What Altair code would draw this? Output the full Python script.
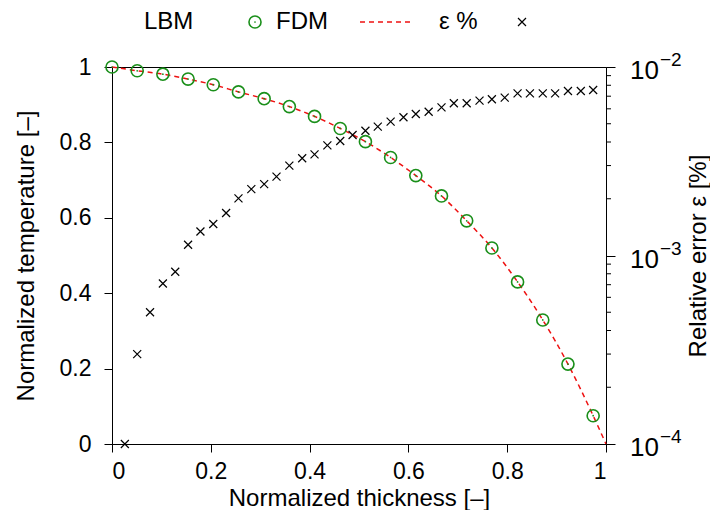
import altair as alt
import pandas as pd

# ---- data ----
lbm_x = [0.0, 0.051, 0.103, 0.154, 0.205, 0.256, 0.308, 0.359, 0.410, 0.462,
         0.513, 0.564, 0.615, 0.667, 0.718, 0.769, 0.821, 0.872, 0.923, 0.974]
lbm_t = [1.0, 0.990, 0.981, 0.968, 0.953, 0.934, 0.916, 0.895, 0.869, 0.837,
         0.802, 0.760, 0.712, 0.658, 0.592, 0.520, 0.430, 0.329, 0.212, 0.075]

fdm_x = [0.0, 0.051, 0.103, 0.154, 0.205, 0.256, 0.308, 0.359, 0.410, 0.462,
         0.513, 0.564, 0.615, 0.667, 0.718, 0.769, 0.821, 0.872, 0.923, 0.974, 1.0]
fdm_t = [1.0, 0.990, 0.981, 0.968, 0.953, 0.934, 0.916, 0.895, 0.869, 0.837,
         0.802, 0.760, 0.712, 0.658, 0.592, 0.520, 0.430, 0.329, 0.212, 0.075, 0.0]

err_x = [0.026, 0.051, 0.077, 0.103, 0.128, 0.154, 0.179, 0.205, 0.231, 0.256,
         0.282, 0.308, 0.333, 0.359, 0.385, 0.410, 0.436, 0.462, 0.487, 0.513,
         0.538, 0.564, 0.590, 0.615, 0.641, 0.667, 0.692, 0.718, 0.744, 0.769,
         0.795, 0.821, 0.846, 0.872, 0.897, 0.923, 0.949, 0.974]
err_v = [1.0e-4, 3.0e-4, 5.0e-4, 7.1e-4, 8.2e-4, 1.14e-3, 1.34e-3, 1.47e-3, 1.68e-3, 2.01e-3,
         2.25e-3, 2.39e-3, 2.62e-3, 3.0e-3, 3.28e-3, 3.44e-3, 3.84e-3, 4.05e-3, 4.36e-3, 4.59e-3,
         4.83e-3, 5.13e-3, 5.41e-3, 5.63e-3, 5.79e-3, 6.11e-3, 6.42e-3, 6.42e-3, 6.63e-3, 6.74e-3,
         6.88e-3, 7.25e-3, 7.25e-3, 7.25e-3, 7.25e-3, 7.46e-3, 7.46e-3, 7.55e-3]

x_ticks = [0, 0.2, 0.4, 0.6, 0.8, 1]
t_ticks = [0, 0.2, 0.4, 0.6, 0.8, 1]
decades = [1e-4, 1e-3, 1e-2]
decade_base = ["10", "10", "10"]
decade_exp = ["\u22124", "\u22123", "\u22122"]
minor_ticks = [2e-4, 3e-4, 4e-4, 5e-4, 6e-4, 7e-4, 8e-4, 9e-4,
               2e-3, 3e-3, 4e-3, 5e-3, 6e-3, 7e-3, 8e-3, 9e-3]

FONT = "Liberation Sans"
FS = 24
LFS = 23
W, H = 494, 377
GREEN = "#1a8f1a"
RED = "#ee1111"

x_scale = alt.Scale(domain=[0, 1], nice=False, zero=False)
t_scale = alt.Scale(domain=[0, 1], nice=False, zero=False)
e_scale = alt.Scale(type="log", domain=[1e-4, 1e-2], nice=False)

x_axis = alt.Axis(values=x_ticks, format="~g", title="Normalized thickness [\u2013]",
                  tickSize=8, labelPadding=8, titleX=W / 2, titleY=61,
                  titleBaseline="alphabetic", titleAlign="center")
t_axis = alt.Axis(values=t_ticks, format="~g", title="Normalized temperature [\u2013]",
                  orient="left", tickSize=8, labelPadding=13, titleX=-79, titleY=H / 2,
                  titleAngle=270, titleBaseline="alphabetic", titleAlign="center")
e_axis = alt.Axis(values=decades, labels=False, orient="right", title="Relative error \u03b5 [%]",
                  tickSize=9, titleX=99, titleY=H / 2, titleAngle=270,
                  titleBaseline="alphabetic", titleAlign="center")

X = lambda f: alt.X(f"{f}:Q", scale=x_scale, axis=x_axis)
YT = lambda f: alt.Y(f"{f}:Q", scale=t_scale, axis=t_axis)
YE = lambda f: alt.Y(f"{f}:Q", scale=e_scale, axis=e_axis)

df_lbm = pd.DataFrame({"x": lbm_x, "t": lbm_t})
df_fdm = pd.DataFrame({"x": fdm_x, "t": fdm_t})
df_err = pd.DataFrame({"x": err_x, "t": err_v})
df_dec = pd.DataFrame({"t": decades, "base": decade_base, "exp": decade_exp})
df_minor = pd.DataFrame({"t": minor_ticks})
one = pd.DataFrame({"k": [0]})

fdm_line = alt.Chart(df_fdm).mark_line(color=RED, strokeDash=[5, 4], strokeWidth=1.5,
                                       interpolate="monotone").encode(x=X("x"), y=YT("t"))
lbm_pts = alt.Chart(df_lbm).mark_point(shape="circle", filled=False, size=145, stroke=GREEN,
                                       strokeWidth=1.6, opacity=1).encode(x=X("x"), y=YT("t"))
lbm_dot = alt.Chart(df_lbm).mark_point(shape="circle", filled=True, size=3, color=GREEN,
                                       opacity=1).encode(x=X("x"), y=YT("t"))

# legend (gnuplot style: label followed by sample)
leg_y = -45
leg_txt = dict(font=FONT, fontSize=FS, align="left", baseline="middle", color="black")
leg1 = alt.Chart(one).mark_text(**leg_txt).encode(x=alt.value(32), y=alt.value(leg_y), text=alt.value("LBM"))
leg1s = alt.Chart(one).mark_point(shape="circle", filled=False, size=145, stroke=GREEN,
                                  strokeWidth=1.6, opacity=1).encode(x=alt.value(143), y=alt.value(leg_y))
leg1d = alt.Chart(one).mark_point(shape="circle", filled=True, size=3, color=GREEN,
                                  opacity=1).encode(x=alt.value(143), y=alt.value(leg_y))
leg2 = alt.Chart(one).mark_text(**leg_txt).encode(x=alt.value(164), y=alt.value(leg_y), text=alt.value("FDM"))
leg2s = alt.Chart(one).mark_rule(color=RED, strokeDash=[5, 4], strokeWidth=1.5).encode(
    x=alt.value(248), x2=alt.value(302), y=alt.value(leg_y))
leg3 = alt.Chart(one).mark_text(**leg_txt).encode(x=alt.value(327), y=alt.value(leg_y), text=alt.value("\u03b5 %"))
CROSS = "M-1,-1L1,1M-1,1L1,-1"
leg3s = alt.Chart(one).mark_point(shape=CROSS, filled=False, size=64, stroke="black",
                                  strokeWidth=1.2, opacity=1).encode(x=alt.value(410), y=alt.value(leg_y))

left = alt.layer(fdm_line, lbm_pts, lbm_dot, leg1, leg1s, leg1d, leg2, leg2s, leg3, leg3s)

err_pts = alt.Chart(df_err).mark_point(shape=CROSS, filled=False, size=64, stroke="black",
                                       strokeWidth=1.2, opacity=1).encode(x=X("x"), y=YE("t"))
minor = alt.Chart(df_minor).mark_rule(color="black", strokeWidth=1).encode(
    x=alt.value(W), x2=alt.value(W + 5), y=YE("t"))
dec_base = alt.Chart(df_dec).mark_text(font=FONT, fontSize=26, align="left", baseline="middle",
                                       dx=0, dy=4, color="black").encode(
    x=alt.value(W + 24), y=YE("t"), text="base:N")
dec_exp = alt.Chart(df_dec).mark_text(font=FONT, fontSize=19, align="left", baseline="middle",
                                      dy=-7, color="black").encode(
    x=alt.value(W + 54), y=YE("t"), text="exp:N")

right = alt.layer(err_pts, minor, dec_base, dec_exp)

chart = (
    alt.layer(left, right)
    .resolve_scale(y="independent")
    .properties(width=W, height=H, padding={"left": 104, "top": 59, "right": 104, "bottom": 66},
                autosize=alt.AutoSizeParams(type="none"))
    .configure_view(stroke="black", strokeWidth=1)
    .configure_axis(labelFont=FONT, titleFont=FONT, labelFontSize=LFS, titleFontSize=FS,
                    labelColor="black", titleColor="black", titleFontWeight="normal",
                    domainColor="black", tickColor="black", domainWidth=1, tickWidth=1,
                    grid=False)
)

chart.save("out.html", embed_options={"renderer": "svg", "actions": False})
